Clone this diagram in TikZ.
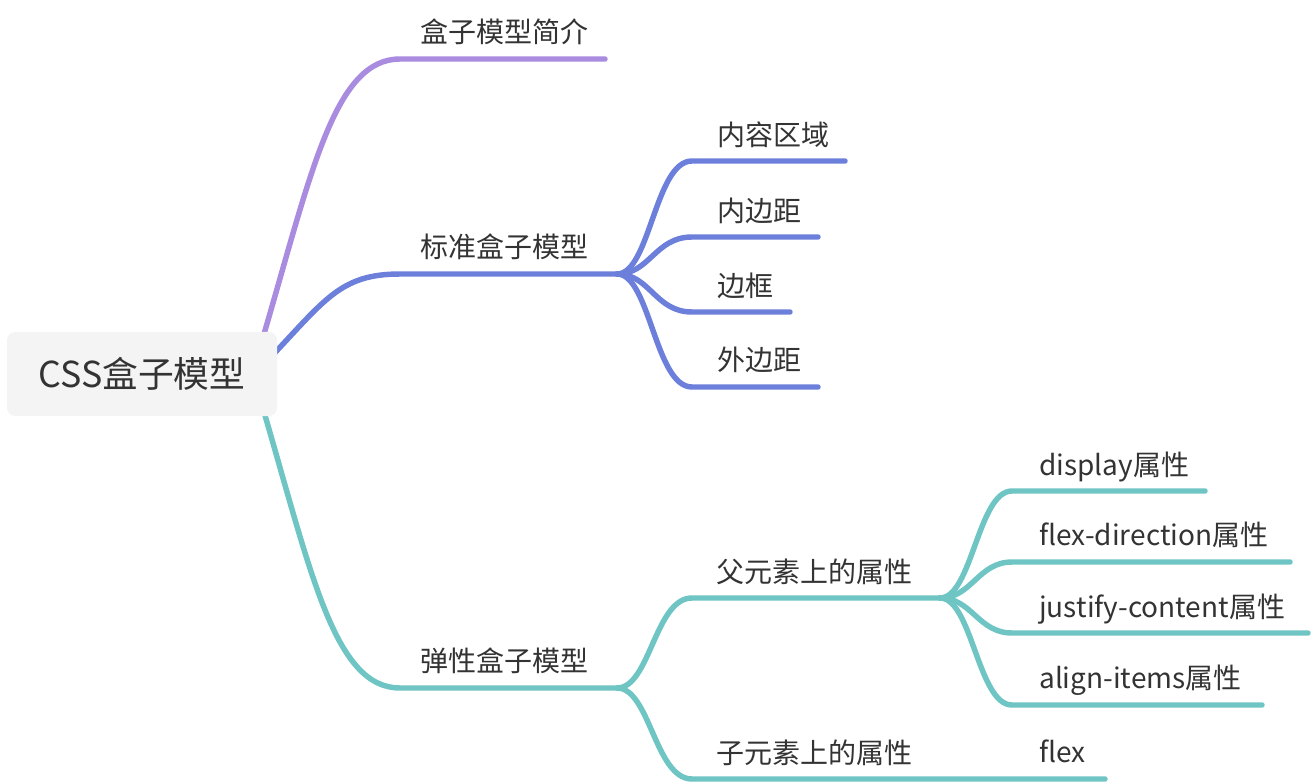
\documentclass[tikz,border=0pt]{standalone}
\usepackage{fontspec}
\setmainfont{Noto Sans CJK SC}
\usetikzlibrary{backgrounds}
\definecolor{cpur}{HTML}{A98BDF}
\definecolor{cblu}{HTML}{6C80DB}
\definecolor{ctea}{HTML}{6EC5C4}
\definecolor{ctxt}{HTML}{333333}
\definecolor{cbox}{HTML}{F4F4F4}
\begin{document}
\begin{tikzpicture}[x=0.75pt,y=-0.75pt,
  lbl/.style={anchor=base west, inner sep=0pt, text=ctxt, font=\fontsize{21}{24}\selectfont},
  branch/.style={line width=4.1pt, line cap=round},
  rootbox/.style={fill=cbox, rounded corners=6pt, minimum width=202.5pt, minimum height=63pt, text=ctxt, font=\fontsize{26.8}{30}\selectfont}
]
\useasboundingbox (0,0) rectangle (1314,784);
% root
\node[rootbox] (root) at (142,374) {CSS盒子模型};
% level 1 labels
\node[lbl] (l1a) at (420,43) {盒子模型简介};
\node[lbl] (l1b) at (420,258) {标准盒子模型};
\node[lbl] (l1c) at (420,671) {弹性盒子模型};
% level 2 labels
\node[lbl] (l2a) at (717,146) {内容区域};
\node[lbl] (l2b) at (717,222) {内边距};
\node[lbl] (l2c) at (717,297) {边框};
\node[lbl] (l2d) at (717,370) {外边距};
\node[lbl] (l2e) at (716,582) {父元素上的属性};
\node[lbl] (l2f) at (716,763) {子元素上的属性};
% level 3 labels
\node[lbl] (l3a) at (1039,475) {display属性};
\node[lbl] (l3b) at (1039,545) {flex-direction属性};
\node[lbl] (l3c) at (1039,617) {justify-content属性};
\node[lbl] (l3d) at (1039,688) {align-items属性};
\node[lbl] (l3e) at (1039,762) {flex};
% coordinates
\coordinate (sP) at (264,334);
\coordinate (sB) at (268,360);
\coordinate (sT) at (264,412);
\coordinate (jB) at (617,274);
\coordinate (jT) at (617,688);
\coordinate (jF) at (940,598);
\coordinate (eP) at (605,59);
\coordinate (eA) at (845,161);
\coordinate (eB) at (818,237);
\coordinate (eC) at (790,312);
\coordinate (eD) at (818,387);
\coordinate (eE) at (1105,779);
\coordinate (fA) at (1205,491);
\coordinate (fB) at (1290,562);
\coordinate (fC) at (1308,633);
\coordinate (fD) at (1262,705);
\begin{scope}[on background layer]
  \draw[branch, cpur] (sP) .. controls (312,170) and (335,59) .. (400,59) -- (eP);
  \draw[branch, cblu] (sB) .. controls (325,300) and (340,274) .. (400,274) -- (jB);
  \draw[branch, ctea] (sT) .. controls (312,576) and (335,688) .. (400,688) -- (jT);
  % blue children
  \draw[branch, cblu] (jB) .. controls (650,274) and (655,161) .. (692,161) -- (eA);
  \draw[branch, cblu] (jB) .. controls (650,274) and (655,237) .. (692,237) -- (eB);
  \draw[branch, cblu] (jB) .. controls (650,274) and (655,312) .. (692,312) -- (eC);
  \draw[branch, cblu] (jB) .. controls (650,274) and (655,387) .. (692,387) -- (eD);
  % teal children
  \draw[branch, ctea] (jT) .. controls (650,688) and (655,598) .. (692,598) -- (jF);
  \draw[branch, ctea] (jT) .. controls (650,688) and (655,779) .. (692,779) -- (eE);
  % level 3
  \draw[branch, ctea] (jF) .. controls (972,598) and (978,491) .. (1012,491) -- (fA);
  \draw[branch, ctea] (jF) .. controls (972,598) and (978,562) .. (1012,562) -- (fB);
  \draw[branch, ctea] (jF) .. controls (972,598) and (978,633) .. (1012,633) -- (fC);
  \draw[branch, ctea] (jF) .. controls (972,598) and (978,705) .. (1012,705) -- (fD);
\end{scope}
\end{tikzpicture}
\end{document}
